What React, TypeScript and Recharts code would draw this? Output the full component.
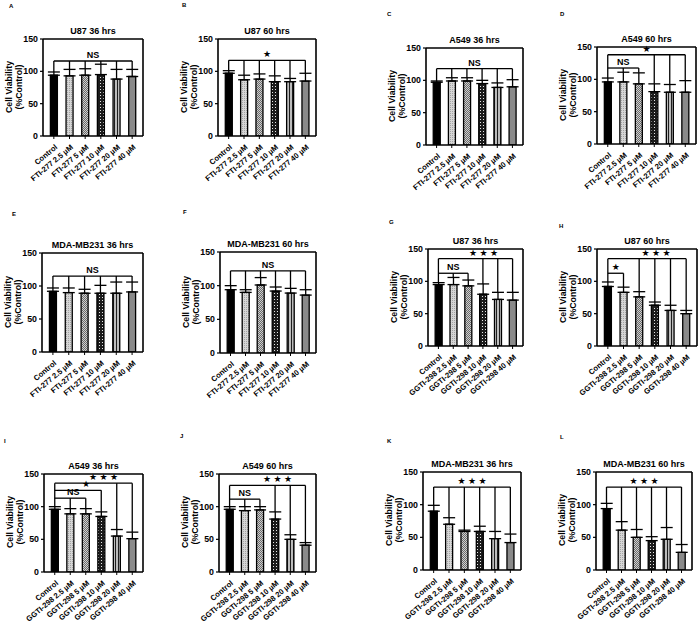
import React from 'react';
import { BarChart, Bar, XAxis, YAxis, ErrorBar, Cell, ReferenceLine } from 'recharts';

const FONT = '"Liberation Sans", Arial, "DejaVu Sans", sans-serif';

const ftiCats = ['Control', 'FTI-277 2.5 µM', 'FTI-277 5 µM', 'FTI-277 10 µM', 'FTI-277 20 µM', 'FTI-277 40 µM'];
const ggtiCats = ['Control', 'GGTI-298 2.5 µM', 'GGTI-298 5 µM', 'GGTI-298 10 µM', 'GGTI-298 20 µM', 'GGTI-298 40 µM'];

// bar fills, one per treatment (patterns defined in the hidden svg below)
const barFills = ['#000000', 'url(#pDot)', 'url(#pCheck)', 'url(#pDark)', 'url(#pStripe)', '#8a8a8a'];

// cell viability (%control), mean and upper error
const aVals = [94, 93, 94, 95, 88, 92];
const aErr = [5, 10, 10, 16, 15, 11];
const bVals = [97, 87, 88, 84, 84, 85];
const bErr = [4, 7, 8, 9, 5, 12];
const cVals = [97, 99, 99, 95, 89, 90];
const cErr = [2, 5, 5, 5, 7, 11];
const dVals = [96, 96, 93, 81, 80, 80];
const dErr = [6, 15, 17, 12, 12, 18];
const eVals = [92, 90, 89, 89, 89, 91];
const eErr = [5, 7, 6, 12, 17, 15];
const fVals = [94, 90, 101, 92, 89, 86];
const fErr = [6, 4, 11, 6, 7, 8];
const gVals = [95, 95, 93, 80, 72, 71];
const gErr = [3, 11, 9, 16, 11, 12];
const hVals = [92, 83, 76, 63, 55, 50];
const hErr = [7, 8, 8, 5, 8, 5];
const iVals = [96, 89, 89, 85, 55, 51];
const iErr = [4, 8, 8, 7, 10, 10];
const jVals = [96, 94, 95, 81, 50, 41];
const jErr = [4, 6, 5, 11, 7, 4];
const kVals = [90, 70, 59, 59, 48, 42];
const kErr = [9, 10, 2, 8, 11, 13];
const lVals = [94, 61, 50, 45, 47, 27];
const lErr = [8, 13, 12, 6, 18, 12];

type Bracket = { y: number; to: number; drops: number[]; label: string; dx?: number };

type PanelCfg = {
  letter: string;
  lx: number;
  ly: number;
  title: string;
  cats: string[];
  vals: number[];
  errs: number[];
  brackets: Bracket[];
  px: number;
  py: number;
  pw: number;
  ph: number;
};

const ALL = [1, 2, 3, 4, 5];
const NS = 'NS';
const S1 = '★';
const S3 = '★ ★ ★';

const panels: PanelCfg[] = [
  { letter: 'A', lx: 12, ly: 7, title: 'U87 36 hrs', cats: ftiCats, vals: aVals, errs: aErr,
    brackets: [{ y: 116, to: 5, drops: ALL, label: NS }], px: 43, py: 39, pw: 100, ph: 97 },
  { letter: 'B', lx: 185, ly: 6, title: 'U87 60 hrs', cats: ftiCats, vals: bVals, errs: bErr,
    brackets: [{ y: 117, to: 5, drops: ALL, label: S1 }], px: 218, py: 39, pw: 98, ph: 97 },
  { letter: 'C', lx: 390, ly: 15, title: 'A549 36 hrs', cats: ftiCats, vals: cVals, errs: cErr,
    brackets: [{ y: 118, to: 5, drops: ALL, label: NS }], px: 426, py: 48, pw: 97, ph: 97 },
  { letter: 'D', lx: 563, ly: 15, title: 'A549 60 hrs', cats: ftiCats, vals: dVals, errs: dErr,
    brackets: [
      { y: 117.5, to: 2, drops: [1, 2], label: NS },
      { y: 138, to: 5, drops: [3, 4, 5], label: S1 },
    ], px: 597, py: 47, pw: 99, ph: 97 },
  { letter: 'E', lx: 15, ly: 215, title: 'MDA-MB231 36 hrs', cats: ftiCats, vals: eVals, errs: eErr,
    brackets: [{ y: 115, to: 5, drops: ALL, label: NS }], px: 42, py: 253, pw: 101, ph: 99 },
  { letter: 'F', lx: 186, ly: 213, title: 'MDA-MB231 60 hrs', cats: ftiCats, vals: fVals, errs: fErr,
    brackets: [{ y: 122, to: 5, drops: ALL, label: NS }], px: 220, py: 252, pw: 96, ph: 101 },
  { letter: 'G', lx: 392, ly: 223, title: 'U87 36 hrs', cats: ggtiCats, vals: gVals, errs: gErr,
    brackets: [
      { y: 112.5, to: 2, drops: [1, 2], label: NS },
      { y: 135, to: 5, drops: [3, 4, 5], label: S3, dx: 8 },
    ], px: 428, py: 249, pw: 95, ph: 97 },
  { letter: 'H', lx: 562, ly: 227, title: 'U87 60 hrs', cats: ggtiCats, vals: hVals, errs: hErr,
    brackets: [
      { y: 112.5, to: 1, drops: [1], label: S1 },
      { y: 135, to: 5, drops: [2, 3, 4, 5], label: S3, dx: 9 },
    ], px: 597, py: 249, pw: 100, ph: 97 },
  { letter: 'I', lx: 7, ly: 442, title: 'A549 36 hrs', cats: ggtiCats, vals: iVals, errs: iErr,
    brackets: [
      { y: 113, to: 2, drops: [1, 2], label: NS, dx: 3 },
      { y: 125, to: 3, drops: [3], label: S1, dx: 8 },
      { y: 136, to: 5, drops: [4, 5], label: S3, dx: 10 },
    ], px: 44, py: 474, pw: 99, ph: 98 },
  { letter: 'J', lx: 183, ly: 437, title: 'A549 60 hrs', cats: ggtiCats, vals: jVals, errs: jErr,
    brackets: [
      { y: 111.5, to: 2, drops: [1, 2], label: NS },
      { y: 132.5, to: 5, drops: [3, 4, 5], label: S3, dx: 10 },
    ], px: 219, py: 474, pw: 97, ph: 98 },
  { letter: 'K', lx: 390, ly: 442, title: 'MDA-MB231 36 hrs', cats: ggtiCats, vals: kVals, errs: kErr,
    brackets: [{ y: 127, to: 5, drops: ALL, label: S3 }], px: 423, py: 472, pw: 98, ph: 98 },
  { letter: 'L', lx: 563, ly: 438, title: 'MDA-MB231 60 hrs', cats: ggtiCats, vals: lVals, errs: lErr,
    brackets: [{ y: 127, to: 5, drops: ALL, label: S3 }], px: 596, py: 472, pw: 96, ph: 98 },
];

const XTick = (props: any) => {
  const { x, y, payload } = props;
  return (
    <g transform={`translate(${x + 4},${y + 7}) rotate(-40)`}>
      <text x={0} y={0} textAnchor="end" fontSize={7.6} fontWeight="bold" fontFamily={FONT} fill="#000">
        {payload.value}
      </text>
    </g>
  );
};

const line = { stroke: '#000', strokeWidth: 1.6 };

function Panel({ cfg }: { cfg: PanelCfg }) {
  const { cats, vals, errs, brackets, px, py, pw, ph } = cfg;
  const data = cats.map((name, i) => ({ name, v: vals[i], err: [0, errs[i]] }));
  const capTop = (i: number) => vals[i] + errs[i];
  const highest = Math.max(...brackets.map((b) => b.y));
  const W = pw + 33;
  const H = ph + 75;

  return (
    <>
      <div style={{ position: 'absolute', left: cfg.lx - 3, top: cfg.ly - 4, fontSize: 6, fontWeight: 'bold', fontFamily: FONT }}>
        {cfg.letter}
      </div>
      <div
        style={{
          position: 'absolute', left: px - 30, width: pw + 60, top: py - 13, textAlign: 'center',
          fontSize: 9, lineHeight: '11px', fontWeight: 'bold', fontFamily: FONT,
        }}
      >
        {cfg.title}
      </div>
      <div
        style={{
          position: 'absolute', left: px - 29 - 60, top: py + ph / 2 - 11, width: 120, textAlign: 'center',
          transform: 'rotate(-90deg)', fontSize: 8.8, lineHeight: '10px', fontWeight: 'bold', fontFamily: FONT,
        }}
      >
        Cell Viability
        <br />
        (%Control)
      </div>
      <div style={{ position: 'absolute', left: px - 28, top: py - 5 }}>
        <BarChart width={W} height={H} data={data} margin={{ top: 4, right: 4, left: 0, bottom: 0 }} barCategoryGap="28%">
          <XAxis
            dataKey="name"
            interval={0}
            tick={<XTick />}
            tickSize={3}
            height={70}
            axisLine={line}
            tickLine={{ stroke: '#000', strokeWidth: 1 }}
            padding={{ left: 3, right: 3 }}
          />
          <XAxis xAxisId="top" orientation="top" dataKey="name" tick={false} tickLine={false} height={1} axisLine={line} />
          <YAxis
            domain={[0, 150]}
            ticks={[0, 50, 100, 150]}
            allowDataOverflow
            width={28}
            tickSize={3}
            axisLine={line}
            tickLine={{ stroke: '#000', strokeWidth: 1.2 }}
            tick={{ fontSize: 8.8, fontWeight: 'bold', fill: '#000', fontFamily: FONT }}
          />
          <YAxis yAxisId="r" orientation="right" domain={[0, 150]} tick={false} tickLine={false} width={1} axisLine={line} />
          <Bar dataKey="v" stroke="#000" strokeWidth={1.3} isAnimationActive={false}>
            {data.map((d, i) => (
              <Cell key={d.name} fill={barFills[i]} />
            ))}
            <ErrorBar dataKey="err" width={6} stroke="#000" strokeWidth={1.3} />
          </Bar>
          <ReferenceLine
            segment={[{ x: cats[0], y: highest }, { x: cats[0], y: capTop(0) }]}
            stroke="#000"
            strokeWidth={1.3}
          />
          {brackets.map((b, k) => (
            <ReferenceLine
              key={'h' + k}
              segment={[{ x: cats[0], y: b.y }, { x: cats[b.to], y: b.y }]}
              stroke="#000"
              strokeWidth={1.3}
              label={{
                value: b.label, position: 'top', offset: 3, dx: b.dx || 0, fill: '#000',
                fontSize: b.label === NS ? 9 : 9, fontWeight: 'bold', fontFamily: FONT,
              }}
            />
          ))}
          {brackets.map((b, k) =>
            b.drops.map((i) => (
              <ReferenceLine
                key={'d' + k + '-' + i}
                segment={[{ x: cats[i], y: b.y }, { x: cats[i], y: capTop(i) }]}
                stroke="#000"
                strokeWidth={1.3}
              />
            ))
          )}
        </BarChart>
      </div>
    </>
  );
}

export default function App() {
  return (
    <div style={{ position: 'absolute', left: 0, top: 0, width: 700, height: 633, overflow: 'hidden', background: '#fff' }}>
      <svg width={0} height={0} style={{ position: 'absolute' }}>
        <defs>
          <pattern id="pDot" width={2} height={2} patternUnits="userSpaceOnUse">
            <rect width={2} height={2} fill="#d6d6d6" />
            <rect width={1} height={1} fill="#a4a4a4" />
          </pattern>
          <pattern id="pCheck" width={2} height={2} patternUnits="userSpaceOnUse">
            <rect width={2} height={2} fill="#cfcfcf" />
            <rect width={1} height={1} fill="#6a6a6a" />
            <rect x={1} y={1} width={1} height={1} fill="#6a6a6a" />
          </pattern>
          <pattern id="pDark" width={3} height={3} patternUnits="userSpaceOnUse">
            <rect width={3} height={3} fill="#1c1c1c" />
            <rect x={1} y={1} width={1} height={1} fill="#e6e6e6" />
          </pattern>
          <pattern id="pStripe" width={3} height={3} patternUnits="userSpaceOnUse">
            <rect width={3} height={3} fill="#bcbcbc" />
            <rect width={1} height={3} fill="#1e1e1e" />
          </pattern>
        </defs>
      </svg>
      {panels.map((p) => (
        <Panel key={p.letter} cfg={p} />
      ))}
    </div>
  );
}
